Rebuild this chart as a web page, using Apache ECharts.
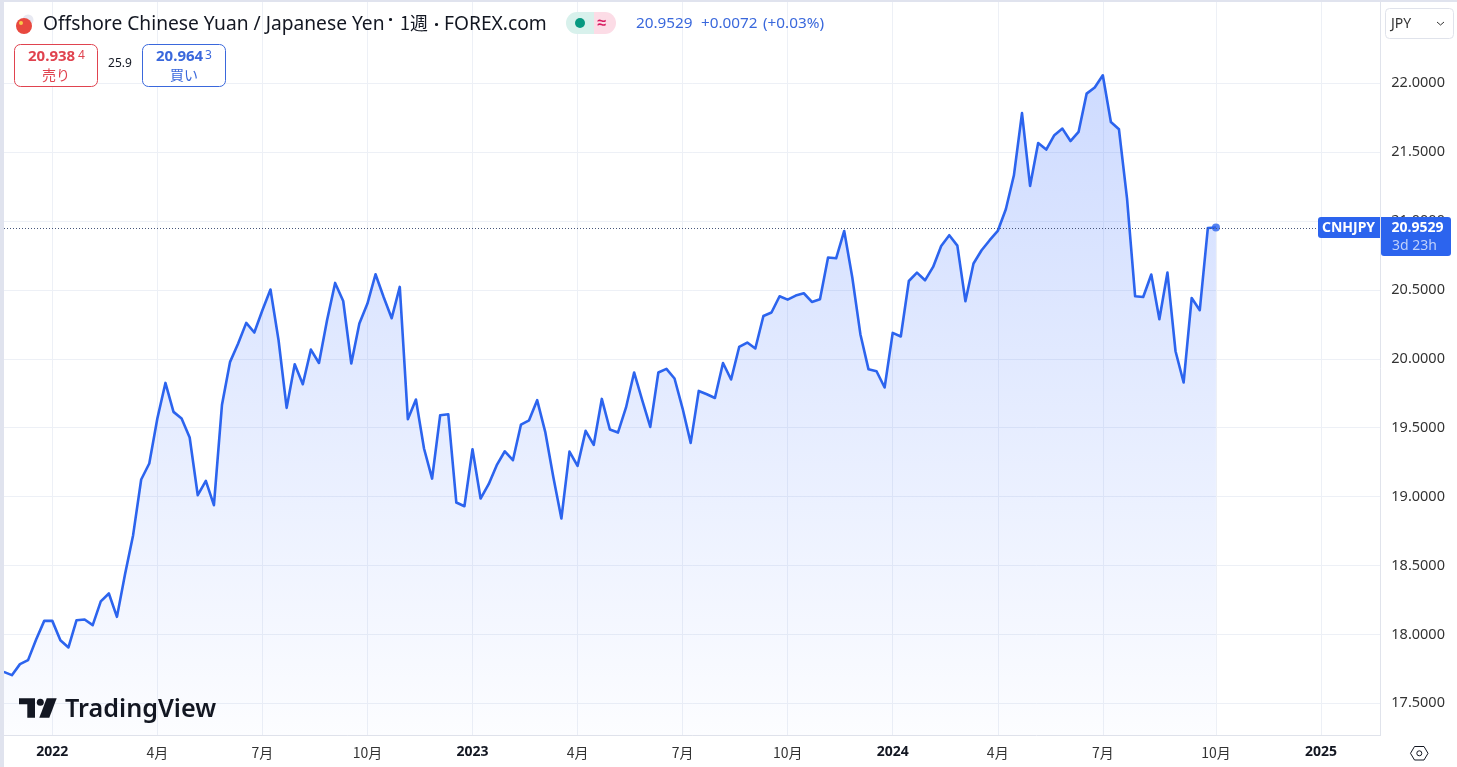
<!DOCTYPE html>
<html>
<head>
<meta charset="utf-8">
<style>html,body{margin:0;padding:0;background:#fff}#chart{width:1457px;height:767px}</style>
<script src="https://cdn.jsdelivr.net/npm/echarts@6/dist/echarts.min.js"></script>
</head>
<body>
<div id="chart"></div>
<script>
// CNHJPY weekly close, first value is the week of 2021-11-22
const firstWeek = '2021-11-22'
const prices = [
    17.728, 17.704, 17.784, 17.813, 17.963, 18.098,
    18.098, 17.958, 17.905, 18.103, 18.108, 18.067, 18.239, 18.297, 18.127, 18.437,
    18.720, 19.124, 19.240, 19.567, 19.825, 19.615, 19.567, 19.429, 19.010, 19.114,
    18.938, 19.667, 19.978, 20.111, 20.261, 20.191, 20.353, 20.503, 20.135, 19.644,
    19.961, 19.816, 20.067, 19.970, 20.280, 20.551, 20.420, 19.966, 20.256, 20.401,
    20.614, 20.449, 20.295, 20.522, 19.562, 19.705, 19.349, 19.131, 19.591, 19.598,
    18.957, 18.930, 19.344, 18.986, 19.090, 19.228, 19.329, 19.264, 19.523, 19.554,
    19.700, 19.470, 19.143, 18.841, 19.327, 19.223, 19.477, 19.375, 19.709, 19.487,
    19.465, 19.647, 19.901, 19.700, 19.506, 19.901, 19.927, 19.857, 19.639, 19.390,
    19.767, 19.743, 19.716, 19.970, 19.850, 20.086, 20.118, 20.075, 20.311, 20.336,
    20.454, 20.430, 20.459, 20.476, 20.413, 20.433, 20.735, 20.730, 20.928, 20.590,
    20.179, 19.925, 19.910, 19.792, 20.188, 20.162, 20.565, 20.626, 20.570, 20.667,
    20.819, 20.897, 20.822, 20.418, 20.692, 20.788, 20.861, 20.928, 21.086, 21.332,
    21.784, 21.255, 21.567, 21.519, 21.623, 21.671, 21.581, 21.647, 21.925, 21.969,
    22.058, 21.719, 21.666, 21.163, 20.454, 20.449, 20.612, 20.287, 20.626, 20.055,
    19.828, 20.442, 20.353, 20.950, 20.9529
]
const tickDates = ['2022-01-03', '2022-04-04', '2022-07-04', '2022-10-03', '2023-01-02', '2023-04-03', '2023-07-03', '2023-10-02', '2024-01-01', '2024-04-01', '2024-07-01', '2024-10-07', '2025-01-06']
const tickNames = ['2022', '4月', '7月', '10月', '2023', '4月', '7月', '10月', '2024', '4月', '7月', '10月', '2025']
const priceTicks = [17.5, 18, 18.5, 19, 19.5, 20, 20.5, 21, 21.5, 22]

const WEEK = 7 * 24 * 3600 * 1000
const start = Date.parse(firstWeek)
const tickTimes = tickDates.map(d => Date.parse(d))
const lineData = prices.map((p, i) => [start + i * WEEK, p])
const lastPoint = lineData[lineData.length - 1]
const lastPrice = lastPoint[1].toFixed(4)

const BLUE = '#2c64ee'
const BLUE_TEXT = '#3a68dc'
const RED = '#e0434f'
const DARK = '#131722'
const EDGE = '#e0e3eb'
const FONT = '"Noto Sans", sans-serif'
const CJK = '"Noto Sans CJK JP", sans-serif'

function txt(text, x, y, font, fill, align) {
    return {
        type: 'text', z: 100, silent: true,
        style: { text: text, x: x, y: y, font: font, fill: fill, textAlign: align || 'left', textVerticalAlign: 'middle' }
    }
}
function box(x, y, w, h, r, fill, stroke) {
    return {
        type: 'rect', z: 99, silent: true,
        shape: { x: x, y: y, width: w, height: h, r: r },
        style: { fill: fill || 'transparent', stroke: stroke || null, lineWidth: 1 }
    }
}

const chrome = [
    // page edge
    box(0, 0, 4, 767, 0, '#e0e3ee'),
    box(0, 0, 1457, 2, 0, '#e0e3ee'),
    // title row
    { type: 'circle', z: 99, silent: true, shape: { cx: 28, cy: 20, r: 5.5 }, style: { fill: '#e8e9f2' } },
    { type: 'circle', z: 100, silent: true, shape: { cx: 24, cy: 26, r: 8 }, style: { fill: '#e8483f' } },
    { type: 'circle', z: 101, silent: true, shape: { cx: 21, cy: 23, r: 2 }, style: { fill: '#f7c948' } },
    txt('Offshore Chinese Yuan / Japanese Yen', 43, 25, '19.2px ' + FONT, DARK),
    txt('·', 388, 21, 'bold 18px ' + FONT, DARK),
    txt('1週', 400, 23, '18px ' + CJK, DARK),
    txt('·', 434, 26, 'bold 18px ' + FONT, DARK),
    txt('FOREX.com', 444, 25, '19.2px ' + FONT, DARK),
    // market status pill
    { type: 'rect', z: 99, silent: true, shape: { x: 566, y: 12, width: 28, height: 22, r: [11, 0, 0, 11] }, style: { fill: '#d8f1ec' } },
    { type: 'rect', z: 99, silent: true, shape: { x: 594, y: 12, width: 22, height: 22, r: [0, 11, 11, 0] }, style: { fill: '#fcdce6' } },
    { type: 'circle', z: 100, silent: true, shape: { cx: 580, cy: 23, r: 5 }, style: { fill: '#089981' } },
    txt('≈', 602, 23, 'bold 16px ' + FONT, '#d81b60', 'center'),
    txt(lastPrice, 636, 24, '15.3px ' + FONT, BLUE_TEXT),
    txt('+0.0072', 701, 24, '15.3px ' + FONT, BLUE_TEXT),
    txt('(+0.03%)', 763, 24, '15.3px ' + FONT, BLUE_TEXT),
    // sell and buy boxes
    box(14.5, 44.5, 83, 42, 6, '#fff', RED),
    txt('20.938', 28, 57, 'bold 15px ' + FONT, RED),
    txt('4', 78, 56, '12px ' + FONT, RED),
    txt('売り', 56, 75, '14px ' + CJK, RED, 'center'),
    txt('25.9', 120, 64, '12px ' + FONT, DARK, 'center'),
    box(142.5, 44.5, 83, 42, 6, '#fff', BLUE_TEXT),
    txt('20.964', 156, 57, 'bold 15px ' + FONT, BLUE_TEXT),
    txt('3', 205, 56, '12px ' + FONT, BLUE_TEXT),
    txt('買い', 184, 75, '14px ' + CJK, BLUE_TEXT, 'center'),
    // currency dropdown
    box(1385.5, 8.5, 68, 30, 4, '#fff', EDGE),
    txt('JPY', 1391, 24, '14px ' + FONT, '#333'),
    { type: 'polyline', z: 100, silent: true, shape: { points: [[1437, 22], [1440.5, 25], [1444, 22]] }, style: { fill: null, stroke: '#333', lineWidth: 1 } },
    // last price tags
    { type: 'rect', z: 100, silent: true, shape: { x: 1318, y: 217, width: 62, height: 21, r: [3, 0, 0, 3] }, style: { fill: BLUE } },
    { type: 'rect', z: 100, silent: true, shape: { x: 1381, y: 217, width: 70, height: 39, r: [0, 3, 3, 3] }, style: { fill: BLUE } },
    txt('CNHJPY', 1348.5, 228, 'bold 14px ' + FONT, '#fff', 'center'),
    txt(lastPrice, 1391.5, 228, 'bold 14px ' + FONT, '#fff'),
    txt('3d 23h', 1392, 246, '14px ' + FONT, '#bfd0fb'),
    // watermark
    { type: 'polygon', z: 100, silent: true, shape: { points: [[19, 698.3], [35, 698.3], [35, 717.7], [27.3, 717.7], [27.3, 704.3], [19, 704.3]] }, style: { fill: DARK } },
    { type: 'circle', z: 100, silent: true, shape: { cx: 40.3, cy: 702.3, r: 3.5 }, style: { fill: DARK } },
    { type: 'polygon', z: 100, silent: true, shape: { points: [[56.7, 698.3], [49.3, 717.7], [39.3, 717.7], [46.7, 698.3]] }, style: { fill: DARK } },
    txt('TradingView', 65, 710, '600 25.2px ' + FONT, DARK),
    // settings hexagon
    { type: 'polygon', z: 100, silent: true, shape: { points: [[1410.5, 753.3], [1414.5, 746.5], [1424, 746.5], [1428, 753.3], [1424, 760], [1414.5, 760]] }, style: { fill: null, stroke: DARK, lineWidth: 1 } },
    { type: 'circle', z: 100, silent: true, shape: { cx: 1419.3, cy: 753.3, r: 2.5 }, style: { fill: null, stroke: DARK, lineWidth: 1 } }
]

const chart = echarts.init(document.getElementById('chart'), null, { renderer: 'canvas' })
chart.setOption({
    animation: false,
    backgroundColor: '#fff',
    grid: { left: 4, right: 76.7, top: 2, bottom: 31.5, show: true, borderColor: EDGE, borderWidth: 0 },
    xAxis: {
        // timestamps on a plain value axis, time axis breaks with customValues
        type: 'value',
        // 52.3px is 2022-01-03, one week is 8.081px
        min: tickTimes[0] - 5.977 * WEEK,
        max: tickTimes[0] + 164.34 * WEEK,
        axisLine: { show: true, onZero: false, lineStyle: { color: EDGE, width: 1 } },
        axisTick: { show: false, customValues: tickTimes },
        splitLine: { show: true, lineStyle: { color: '#edf0f6', width: 1 } },
        axisLabel: {
            customValues: tickTimes,
            margin: 10,
            hideOverlap: false,
            fontFamily: CJK,
            fontSize: 14,
            color: '#333',
            formatter: function (value) {
                const name = tickNames[tickTimes.indexOf(value)]
                return name.length === 4 ? '{y|' + name + '}' : name
            },
            rich: { y: { fontFamily: FONT, fontWeight: 'bold', fontSize: 14, color: DARK } }
        }
    },
    yAxis: {
        type: 'value',
        position: 'right',
        min: 17.266,
        max: 22.59,
        axisLine: { show: true, lineStyle: { color: EDGE, width: 1 } },
        axisTick: { show: false, customValues: priceTicks },
        splitLine: { show: true, lineStyle: { color: '#edf0f6', width: 1 } },
        axisLabel: {
            customValues: priceTicks,
            margin: 11,
            padding: [2, 0, 0, 0],
            fontFamily: FONT,
            fontSize: 14.5,
            color: '#333',
            formatter: function (value) { return value.toFixed(4) }
        }
    },
    series: [
        {
            type: 'line',
            data: lineData,
            showSymbol: false,
            silent: true,
            lineStyle: { color: BLUE, width: 2.6, join: 'round' },
            areaStyle: {
                origin: 'start',
                color: new echarts.graphic.LinearGradient(0, 0, 0, 1, [
                    { offset: 0, color: 'rgba(41,98,255,0.33)' },
                    { offset: 1, color: 'rgba(41,98,255,0.02)' }
                ])
            },
            markLine: {
                silent: true,
                symbol: 'none',
                label: { show: false },
                lineStyle: { type: [1, 2], color: '#47567a', width: 1 },
                data: [{ yAxis: lastPoint[1] }]
            }
        },
        {
            type: 'scatter',
            data: [lastPoint],
            symbol: 'circle',
            symbolSize: 8,
            silent: true,
            itemStyle: { color: BLUE }
        }
    ],
    graphic: { elements: chrome }
})
</script>
</body>
</html>
